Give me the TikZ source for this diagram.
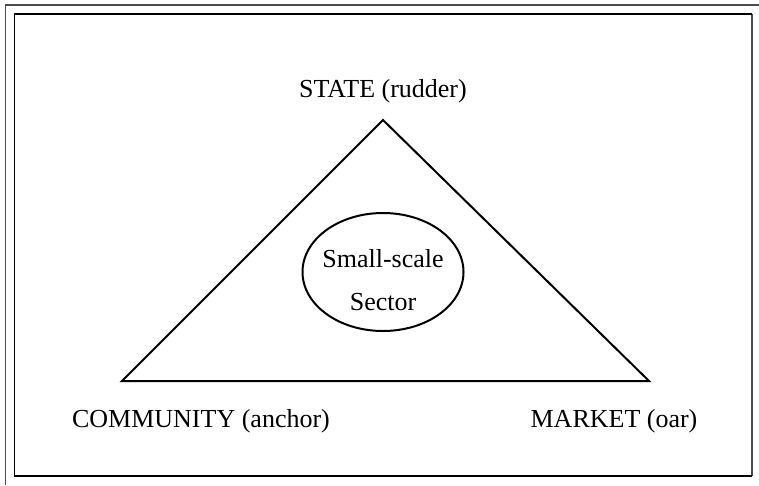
\documentclass[tikz,border=0pt]{standalone}
\usepackage{fontspec}
\setmainfont{Liberation Serif}
\usetikzlibrary{shapes.geometric}
\begin{document}
\begin{tikzpicture}[x=1pt,y=-1pt,
  lbl/.style={anchor=base,inner sep=0pt,font=\fontsize{26}{30}\selectfont},
  frameline/.style={line width=1.6pt,black!70},
  innerline/.style={line width=1.6pt,black},
  tri/.style={line width=2pt,line join=miter},
  oval/.style={ellipse,draw,line width=2pt,minimum width=161pt,minimum height=118pt,inner sep=0pt}]
\useasboundingbox (0,0) rectangle (759,485);
% frames
\coordinate (o1) at (5.5,5);
\coordinate (o2) at (759,5);
\coordinate (o3) at (5.5,485);
\draw[frameline] (o2) -- (o1) -- (o3);
\coordinate (i1) at (14.5,14);
\coordinate (i2) at (752,14);
\coordinate (i3) at (752,476);
\coordinate (i4) at (14.5,476);
\draw[frameline] (i2) -- (i3);
\draw[innerline] (i2) -- (i1) -- (i4) -- (i3);
% triangle
\coordinate (top) at (383,120);
\coordinate (left) at (122,381);
\coordinate (right) at (649,381);
\draw[tri] (top) -- (left) -- (right) -- cycle;
% ellipse
\node[oval] (sector) at (383,272) {};
\node[lbl] (ss) at (383,267) {Small-scale};
\node[lbl] (sec) at (383,310) {Sector};
% labels
\node[lbl] (state) at (383,97) {STATE (rudder)};
\node[lbl] (community) at (201,427) {COMMUNITY (anchor)};
\node[lbl] (market) at (614,427) {MARKET (oar)};
\end{tikzpicture}
\end{document}
